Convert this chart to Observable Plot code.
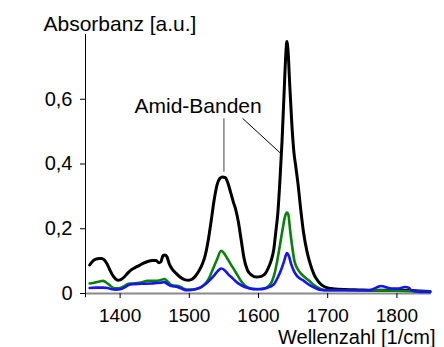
<!DOCTYPE html>
<html><head><meta charset="utf-8">
<script src="https://cdn.jsdelivr.net/npm/d3@7"></script>
<script src="https://cdn.jsdelivr.net/npm/@observablehq/plot@0.6"></script>
<style>body{margin:0;background:#fff} svg{overflow:visible}</style>
</head><body><div id="chart"></div>
<script>
// Wavenumbers [1/cm] and absorbance values per series
const blackX = [1356,1360,1365,1370,1373,1377,1381,1385,1389,1393,1397,1401,1406,1411,1416,1421,1428,1434,1440,1446,1452,1456,1459,1462,1465,1468,1471,1475,1481,1487,1493,1499,1504,1509,1514,1519,1523,1527,1532,1536,1540,1544,1548,1552,1556,1560,1564,1567,1571,1575,1579,1584,1590,1597,1604,1610,1614,1618,1622,1625,1628,1631,1634,1637,1639.5,1641,1643,1645,1648,1651,1654,1657,1661,1665,1670,1675,1680,1686,1692,1700,1710,1725,1745,1765,1800,1848];
const blackY = [0.088,0.099,0.106,0.108,0.108,0.104,0.092,0.074,0.057,0.046,0.041,0.043,0.051,0.063,0.073,0.079,0.087,0.094,0.099,0.102,0.102,0.095,0.098,0.117,0.119,0.112,0.092,0.076,0.062,0.05,0.043,0.041,0.044,0.054,0.07,0.092,0.118,0.16,0.23,0.29,0.335,0.355,0.36,0.358,0.34,0.31,0.28,0.26,0.22,0.165,0.11,0.072,0.057,0.051,0.053,0.062,0.078,0.1,0.135,0.19,0.25,0.35,0.47,0.62,0.74,0.778,0.74,0.65,0.53,0.44,0.39,0.34,0.26,0.19,0.13,0.09,0.06,0.038,0.025,0.017,0.014,0.012,0.011,0.01,0.01,0.006];

const greenX = [1356,1364,1370,1375,1380,1386,1392,1398,1405,1412,1420,1430,1440,1450,1458,1464,1469,1474,1480,1486,1491,1496,1503,1510,1516,1522,1528,1534,1540,1546,1550,1555,1560,1565,1570,1575,1580,1586,1592,1600,1608,1614,1619,1623,1627,1631,1635,1638,1641,1643,1646,1649,1652,1656,1661,1667,1673,1679,1686,1692,1700,1760,1848];
const greenY = [0.031,0.034,0.037,0.039,0.034,0.024,0.016,0.016,0.022,0.03,0.031,0.034,0.039,0.039,0.041,0.045,0.036,0.026,0.024,0.022,0.016,0.012,0.012,0.014,0.018,0.028,0.045,0.075,0.105,0.132,0.125,0.108,0.09,0.073,0.055,0.038,0.026,0.017,0.014,0.014,0.016,0.022,0.035,0.06,0.1,0.15,0.2,0.235,0.25,0.245,0.19,0.14,0.1,0.078,0.062,0.05,0.04,0.028,0.018,0.012,0.01,0.01,0.005];

const blueX = [1356,1365,1375,1382,1388,1394,1400,1406,1412,1418,1430,1445,1458,1464,1468,1474,1483,1490,1496,1503,1510,1517,1524,1530,1536,1541,1546,1551,1556,1561,1567,1573,1580,1589,1597,1604,1611,1617,1623,1628,1633,1637,1641,1644,1647,1651,1655,1660,1665,1671,1677,1683,1690,1700,1720,1740,1760,1766,1772,1777,1782,1788,1795,1802,1807,1812,1817,1821,1826,1835,1848];
const blueY = [0.017,0.018,0.018,0.017,0.013,0.012,0.013,0.018,0.026,0.029,0.03,0.031,0.033,0.035,0.03,0.023,0.02,0.014,0.01,0.011,0.014,0.02,0.03,0.042,0.056,0.069,0.077,0.072,0.06,0.05,0.038,0.028,0.02,0.015,0.013,0.013,0.016,0.021,0.03,0.05,0.075,0.1,0.125,0.115,0.092,0.07,0.056,0.046,0.04,0.03,0.022,0.016,0.011,0.01,0.01,0.01,0.01,0.014,0.02,0.023,0.021,0.017,0.015,0.015,0.018,0.02,0.018,0.01,0.007,0.005,0.005];

const xTicks = [1400,1500,1600,1700,1800];
const xTickLabels = ["1400","1500","1600","1700","1800"];
const yTicks = [0,0.2,0.4,0.6];
const yTickLabels = ["0","0,2","0,4","0,6"];

const yTitle = "Absorbanz [a.u.]";
const xTitle = "Wellenzahl [1/cm]";
const noteText = "Amid-Banden";
// annotation anchors in data coordinates
const notePos = {x: 1512.7, y: 0.556};
const leader1 = [{x1: 1550, y1: 0.541, x2: 1550, y2: 0.376}];
const leader2 = [{x1: 1577, y1: 0.541, x2: 1632, y2: 0.433}];

const rows = (xs, ys) => xs.map((x, i) => ({x, y: ys[i]}));

const chart = Plot.plot({
  width: 444, height: 347,
  marginLeft: 85, marginRight: 13, marginTop: 34, marginBottom: 54,
  style: {fontFamily: '"Liberation Sans", Arial, sans-serif', fontSize: "19.5px", background: "white", color: "black", overflow: "visible"},
  x: {domain: [1350, 1850]},
  y: {domain: [0, 0.8]},
  marks: [
    Plot.ruleY([0], {stroke: "#8a8a8a", strokeWidth: 2}),
    Plot.ruleX([1350], {y1: -0.013, y2: 0.8, stroke: "black", strokeWidth: 1}),
    Plot.axisX({ticks: xTicks, tickSize: 5, tickPadding: 10, label: null, stroke: "black", fontSize: 19,
      tickFormat: d => xTickLabels[xTicks.indexOf(d)]}),
    Plot.axisY({ticks: yTicks, tickSize: 5, tickPadding: 8, label: null, fontSize: 20,
      tickFormat: d => yTickLabels[yTicks.indexOf(d)]}),
    Plot.line(rows(blackX, blackY), {x: "x", y: "y", stroke: "black", strokeWidth: 3, curve: "monotone-x"}),
    Plot.line(rows(greenX, greenY), {x: "x", y: "y", stroke: "#0a800a", strokeWidth: 2.6, curve: "monotone-x"}),
    Plot.line(rows(blueX, blueY), {x: "x", y: "y", stroke: "#1414f5", strokeWidth: 2.6, curve: "monotone-x"}),
    Plot.link(leader1, {x1: "x1", y1: "y1", x2: "x2", y2: "y2", stroke: "#808080", strokeWidth: 1.5}),
    Plot.link(leader2, {x1: "x1", y1: "y1", x2: "x2", y2: "y2", stroke: "black", strokeWidth: 1}),
    Plot.text([noteText], {x: notePos.x, y: notePos.y, text: d => d, textAnchor: "middle", lineAnchor: "bottom", fontSize: 21}),
    Plot.text([yTitle], {frameAnchor: "top-left", text: d => d, textAnchor: "start", lineAnchor: "bottom", dx: -42, dy: -3.5, fontSize: 21}),
    Plot.text([xTitle], {frameAnchor: "bottom-right", text: d => d, textAnchor: "end", lineAnchor: "bottom", dx: 4, dy: 50.5, fontSize: 20})
  ]
});
document.getElementById("chart").appendChild(chart);
</script>
</body></html>
